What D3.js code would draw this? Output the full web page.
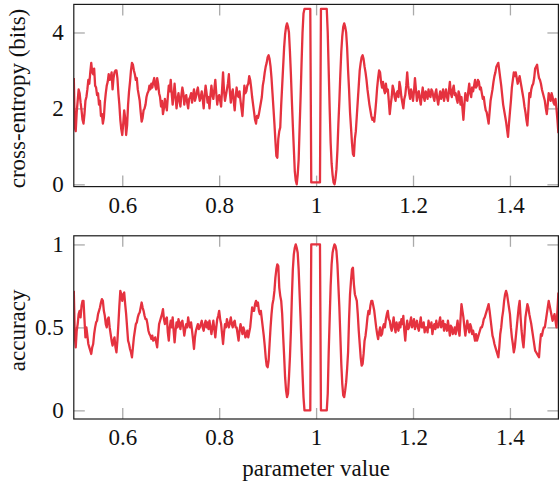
<!DOCTYPE html>
<html>
<head>
<meta charset="utf-8">
<script src="https://cdn.jsdelivr.net/npm/d3@7"></script>
<style>
  html, body { margin: 0; padding: 0; background: #fff; }
  svg { display: block; font-family: "Liberation Serif", "Times New Roman", serif; }
</style>
</head>
<body>
<svg id="chart" width="559" height="486"></svg>
<script>
// Sweep of the parameter: evenly spaced samples from 0.5 to 1.5
const paramStart = 0.5;
const paramStep = 0.002;

// Cross-entropy (bits) at each sample
const crossEntropy = [
  2.8, 1.5, 1.4, 1.9, 2.2, 2.5, 2.4, 2.15, 1.95, 1.7,
  1.6, 1.85, 2.2, 2.3, 2.5, 2.75, 2.65, 2.95, 3.2, 2.95,
  2.9, 3.05, 2.6, 2.55, 2.35, 2.4, 2.1, 2.2, 1.8, 1.85,
  1.6, 1.75, 2.15, 2.4, 2.6, 2.7, 2.9, 2.75, 2.8, 2.95,
  2.5, 2.8, 2.95, 3.0, 3.0, 2.8, 2.4, 2.1, 1.7, 1.45,
  1.3, 1.6, 1.95, 1.75, 1.3, 1.55, 2.1, 2.45, 2.7, 3.0,
  3.2, 3.15, 3.0, 2.9, 2.75, 2.8, 2.5, 2.35, 2.2, 1.9,
  1.65, 1.75, 1.95, 2.0, 2.1, 2.3, 2.4, 2.45, 2.6, 2.5,
  2.65, 2.55, 2.7, 2.8, 2.6, 2.5, 2.8, 2.65, 2.4, 2.3,
  2.05, 2.2, 1.85, 2.0, 2.25, 2.1, 1.95, 2.3, 2.6, 2.45,
  2.75, 2.4, 2.1, 2.35, 2.65, 2.3, 2.0, 2.25, 2.4, 2.2,
  2.05, 2.35, 2.55, 2.4, 2.1, 2.3, 2.35, 2.15, 2.0, 2.25,
  2.3, 2.4, 2.15, 2.35, 2.5, 2.2, 2.3, 2.45, 2.55, 2.35,
  2.2, 2.3, 2.45, 2.25, 2.0, 2.35, 2.6, 2.4, 2.15, 2.3,
  2.0, 2.35, 2.6, 2.35, 2.25, 2.5, 2.75, 2.4, 2.1, 2.3,
  2.35, 2.2, 2.05, 2.5, 2.95, 2.45, 2.2, 2.35, 2.5, 2.65,
  2.9, 2.45, 2.15, 2.4, 2.5, 2.2, 1.95, 2.3, 2.55, 2.35,
  2.3, 2.45, 2.2, 2.0, 1.8, 2.2, 2.6, 2.4, 2.45, 2.6,
  2.65, 2.85, 2.75, 2.55, 2.3, 2.1, 1.9, 1.7, 1.6, 1.8,
  1.75, 1.85, 2.0, 2.15,
  // central oscillation
  2.3, 2.6, 2.75, 2.95, 3.1, 3.2, 3.35, 3.4, 3.3, 3.1,
  2.8, 2.4, 2.0, 1.6, 1.15, 0.75, 0.7, 1.2, 1.4, 1.5,
  2.1, 2.6, 3.1, 3.6, 3.95, 4.15, 4.24, 4.15, 4.0, 3.5,
  2.9, 2.2, 1.55, 0.95, 0.35, 0.1, 0.0, 0.25, 0.65, 1.5,
  2.3, 3.2, 4.0, 4.5,
  4.62, 4.62, 4.62, 4.62, 4.62, 4.62, 4.62,
  0.05, 0.05, 0.05, 0.05, 0.05, 0.05, 0.05, 0.05, 0.05, 0.05,
  4.62, 4.62, 4.62, 4.62, 4.62, 4.62, 4.62,
  4.0, 3.0, 2.0, 1.1, 0.55, 0.25, 0.05, 0.0, 0.15, 0.4,
  0.9, 1.6, 2.2, 2.9, 3.5, 3.9, 4.15, 4.24, 4.15, 4.0,
  3.6, 3.0, 2.5, 1.9, 1.5, 1.1, 0.8, 0.75, 1.2, 1.4,
  1.8, 2.2, 2.6, 3.0, 3.2, 3.35, 3.4, 3.3, 3.1, 2.95,
  2.75, 2.5,
  // upper plateau
  2.3, 2.1, 1.95, 1.8, 1.7, 1.75, 1.65, 1.9, 2.2, 2.55,
  2.8, 3.0, 2.95, 2.7, 2.55, 2.7, 2.5, 2.4, 2.65, 2.45,
  2.5, 2.2, 1.85, 2.1, 2.3, 2.6, 2.5, 2.3, 2.2, 2.4,
  2.45, 2.3, 2.7, 2.55, 2.3, 2.15, 2.0, 2.25, 2.35, 2.6,
  2.95, 2.6, 2.4, 2.25, 2.5, 2.4, 2.2, 2.45, 2.8, 2.5,
  2.2, 2.4, 2.45, 2.25, 2.1, 2.35, 2.55, 2.3, 2.2, 2.45,
  2.4, 2.25, 2.5, 2.35, 2.3, 2.5, 2.45, 2.3, 2.2, 2.4,
  2.5, 2.25, 2.1, 2.3, 2.45, 2.25, 2.35, 2.5, 2.2, 2.35,
  2.5, 2.3, 2.2, 2.45, 2.7, 2.4, 2.3, 2.5, 2.6, 2.35,
  2.4, 2.25, 2.15, 2.45, 2.35, 2.1, 2.3, 2.0, 1.7, 2.1,
  2.4, 2.25, 2.2, 2.45, 2.65, 2.4, 2.3, 2.55, 2.45, 2.6,
  2.75, 2.55, 2.6, 2.75, 2.7, 2.5, 2.55, 2.4, 2.25, 2.3,
  2.1, 1.95, 1.9, 1.75, 1.6, 1.9, 2.2, 2.35, 2.5, 2.7,
  2.85, 2.95, 3.1, 3.15, 3.2, 3.0, 2.8, 2.6, 2.35, 2.1,
  1.95, 1.8, 1.65, 1.45, 1.25, 1.6, 1.9, 2.2, 2.55, 2.75,
  2.95, 2.85, 2.95, 2.8, 2.65, 2.75, 2.85, 2.7, 2.55, 2.4,
  2.25, 2.05, 1.9, 1.7, 1.55, 1.95, 2.4, 2.3, 2.5, 2.6,
  2.65, 2.8, 3.05, 3.1, 3.15, 2.95, 2.8, 2.75, 2.65, 2.5,
  2.4, 2.3, 2.2, 2.0, 1.85, 2.1, 2.4, 2.3, 2.2, 2.4,
  2.3, 2.15, 2.1, 2.25, 2.0, 1.7, 1.35
];

// Accuracy at each sample
const accuracy = [
  0.72, 0.45, 0.38, 0.48, 0.52, 0.58, 0.6, 0.56, 0.63, 0.66,
  0.66, 0.55, 0.44, 0.5, 0.45, 0.4, 0.38, 0.36, 0.34, 0.38,
  0.4, 0.46, 0.5, 0.53, 0.54, 0.58, 0.6, 0.62, 0.65, 0.67,
  0.66, 0.6, 0.57, 0.52, 0.5, 0.55, 0.56, 0.5, 0.46, 0.42,
  0.39, 0.42, 0.44, 0.38, 0.35, 0.42, 0.52, 0.63, 0.72, 0.7,
  0.66, 0.7, 0.71, 0.64, 0.58, 0.5, 0.42, 0.4, 0.37, 0.35,
  0.32, 0.38, 0.44, 0.48, 0.52, 0.53, 0.56, 0.58, 0.59, 0.62,
  0.65, 0.62, 0.6, 0.57, 0.55, 0.55, 0.52, 0.48, 0.46, 0.45,
  0.43, 0.45, 0.42, 0.43, 0.44, 0.41, 0.38, 0.45, 0.52, 0.54,
  0.56, 0.58, 0.61, 0.55, 0.52, 0.55, 0.56, 0.47, 0.42, 0.5,
  0.54, 0.5, 0.56, 0.48, 0.41, 0.48, 0.53, 0.5, 0.55, 0.52,
  0.49, 0.53, 0.54, 0.5, 0.45, 0.49, 0.52, 0.5, 0.56, 0.52,
  0.5, 0.53, 0.48, 0.43, 0.37, 0.44, 0.48, 0.5, 0.52, 0.49,
  0.5, 0.52, 0.54, 0.5, 0.48, 0.52, 0.54, 0.5, 0.53, 0.49,
  0.54, 0.5, 0.46, 0.5, 0.54, 0.49, 0.44, 0.5, 0.55, 0.57,
  0.6, 0.55, 0.52, 0.46, 0.4, 0.47, 0.52, 0.5, 0.55, 0.52,
  0.5, 0.53, 0.56, 0.52, 0.5, 0.53, 0.54, 0.5, 0.5, 0.46,
  0.42, 0.48, 0.52, 0.49, 0.46, 0.5, 0.48, 0.44, 0.45, 0.48,
  0.44, 0.47, 0.5, 0.56, 0.62, 0.6,
  // central oscillation
  0.6, 0.64, 0.66, 0.63, 0.65, 0.6, 0.58, 0.6, 0.55, 0.5,
  0.45, 0.39, 0.32, 0.27, 0.26, 0.3, 0.4, 0.5, 0.58, 0.64,
  0.67, 0.72, 0.8, 0.85, 0.88, 0.87, 0.74, 0.69, 0.66, 0.58,
  0.45, 0.33, 0.2, 0.12, 0.08, 0.1, 0.2, 0.32, 0.48, 0.68,
  0.85, 0.94, 0.98, 1.0, 0.98, 0.95, 0.85, 0.7, 0.55, 0.38,
  0.22, 0.08,
  0.0, 0.0, 0.0, 0.0, 0.0, 0.0, 0.0,
  1.0, 1.0, 1.0, 1.0, 1.0, 1.0, 1.0, 1.0, 1.0, 1.0,
  0.0, 0.0, 0.0, 0.0, 0.0, 0.0, 0.0,
  0.1, 0.35, 0.55, 0.75, 0.88, 0.95, 0.98, 1.0, 0.99, 0.96,
  0.88, 0.75, 0.62, 0.45, 0.28, 0.16, 0.09, 0.08, 0.12, 0.17,
  0.25, 0.35, 0.55, 0.7, 0.78, 0.85, 0.86, 0.76, 0.7, 0.68,
  0.66, 0.58, 0.48, 0.4, 0.32, 0.27, 0.28, 0.34, 0.42,
  // upper plateau
  0.45, 0.5, 0.56, 0.6, 0.58, 0.63, 0.66, 0.66, 0.63, 0.6,
  0.55, 0.5, 0.46, 0.43, 0.47, 0.5, 0.45, 0.46, 0.5, 0.52,
  0.5, 0.55, 0.58, 0.6, 0.55, 0.54, 0.5, 0.48, 0.52, 0.56,
  0.5, 0.47, 0.53, 0.5, 0.48, 0.53, 0.5, 0.55, 0.52, 0.57,
  0.48, 0.42, 0.5, 0.54, 0.49, 0.5, 0.53, 0.56, 0.5, 0.52,
  0.55, 0.49, 0.52, 0.54, 0.5, 0.48, 0.52, 0.56, 0.5, 0.5,
  0.53, 0.47, 0.5, 0.5, 0.47, 0.54, 0.5, 0.5, 0.53, 0.46,
  0.5, 0.52, 0.49, 0.54, 0.5, 0.5, 0.53, 0.56, 0.5, 0.52,
  0.54, 0.48, 0.52, 0.51, 0.48, 0.54, 0.5, 0.45, 0.51, 0.5,
  0.46, 0.47, 0.5, 0.46, 0.5, 0.54, 0.48, 0.45, 0.55, 0.64,
  0.6, 0.56, 0.5, 0.45, 0.5, 0.54, 0.5, 0.47, 0.52, 0.5,
  0.46, 0.48, 0.45, 0.42, 0.46, 0.42, 0.44, 0.46, 0.48, 0.5,
  0.5, 0.52, 0.55, 0.56, 0.58, 0.6, 0.62, 0.64, 0.6, 0.55,
  0.5, 0.45, 0.43, 0.4, 0.38, 0.36, 0.34, 0.32, 0.38, 0.46,
  0.5, 0.56, 0.6, 0.66, 0.7, 0.72, 0.7, 0.66, 0.62, 0.58,
  0.5, 0.44, 0.4, 0.35, 0.38, 0.44, 0.5, 0.56, 0.62, 0.66,
  0.56, 0.48, 0.42, 0.38, 0.46, 0.56, 0.6, 0.64, 0.62, 0.58,
  0.55, 0.52, 0.48, 0.44, 0.4, 0.36, 0.35, 0.34, 0.33, 0.32,
  0.4, 0.46, 0.45, 0.48, 0.5, 0.5, 0.54, 0.58, 0.62, 0.66,
  0.63, 0.6, 0.57, 0.54, 0.56, 0.58, 0.54, 0.5, 0.6, 0.71
];

const xTicks = [0.6, 0.8, 1, 1.2, 1.4];
const ceTicks = [0, 2, 4];
const accTicks = [0, 0.5, 1];
const xDomain = [0.5, 1.5];

if (crossEntropy.length !== accuracy.length) {
  console.error("series lengths differ", crossEntropy.length, accuracy.length);
}
const paramValues = crossEntropy.map((_, i) => paramStart + i * paramStep);

const svg = d3.select("#chart");
const lineColor = "#e5323f";
const tickColor = "#aaaaaa";
const fontSize = 23;

const x = d3.scaleLinear().domain(xDomain).range([73.8, 558.4]);

const panels = [
  { id: "ce", label: "cross-entropy (bits)", values: crossEntropy, ticks: ceTicks,
    domain: [-0.06, 4.74], top: 4.4, bottom: 186.6 },
  { id: "acc", label: "accuracy", values: accuracy, ticks: accTicks,
    domain: [-0.052, 1.052], top: 235.8, bottom: 419 }
];

const fmt = d => String(d);

panels.forEach(p => {
  const y = d3.scaleLinear().domain(p.domain).range([p.bottom, p.top]);
  const g = svg.append("g");

  // inward ticks on all four sides
  const bottomAxis = g.append("g")
    .attr("transform", `translate(0,${p.bottom})`)
    .call(d3.axisBottom(x).tickValues(xTicks).tickSizeInner(-11).tickSizeOuter(0)
      .tickPadding(10).tickFormat(fmt));
  const topAxis = g.append("g")
    .attr("transform", `translate(0,${p.top})`)
    .call(d3.axisTop(x).tickValues(xTicks).tickSizeInner(-11).tickSizeOuter(0).tickFormat(""));
  const leftAxis = g.append("g")
    .attr("transform", `translate(${x.range()[0]},0)`)
    .call(d3.axisLeft(y).tickValues(p.ticks).tickSizeInner(-11).tickSizeOuter(0)
      .tickPadding(10).tickFormat(fmt));
  const rightAxis = g.append("g")
    .attr("transform", `translate(${x.range()[1]},0)`)
    .call(d3.axisRight(y).tickValues(p.ticks).tickSizeInner(-11).tickSizeOuter(0).tickFormat(""));

  [bottomAxis, topAxis, leftAxis, rightAxis].forEach(a => {
    a.select(".domain").remove();
    a.selectAll(".tick line").attr("stroke", tickColor).attr("stroke-width", 1.3);
    a.selectAll(".tick text")
      .attr("fill", "#111")
      .style("font-family", '"Liberation Serif", "Times New Roman", serif')
      .style("font-size", fontSize + "px");
  });

  // data line, clipped to the plot box
  const clipId = "clip-" + p.id;
  svg.append("clipPath").attr("id", clipId)
    .append("rect")
    .attr("x", x.range()[0]).attr("y", p.top)
    .attr("width", x.range()[1] - x.range()[0]).attr("height", p.bottom - p.top);

  const line = d3.line()
    .x((d, i) => x(paramValues[i]))
    .y(d => y(d));

  g.append("path")
    .datum(p.values)
    .attr("clip-path", `url(#${clipId})`)
    .attr("fill", "none")
    .attr("stroke", lineColor)
    .attr("stroke-width", 2.3)
    .attr("stroke-linejoin", "round")
    .attr("d", line);

  // frame
  g.append("rect")
    .attr("x", x.range()[0]).attr("y", p.top)
    .attr("width", x.range()[1] - x.range()[0]).attr("height", p.bottom - p.top)
    .attr("fill", "none")
    .attr("stroke", "#1a1a1a")
    .attr("stroke-width", 1.2);

  // y-axis title
  g.append("text")
    .attr("transform", `translate(25,${(p.top + p.bottom) / 2 + 3}) rotate(-90)`)
    .attr("text-anchor", "middle")
    .attr("fill", "#111")
    .style("font-size", fontSize + "px")
    .text(p.label);
});

// x-axis title
svg.append("text")
  .attr("x", (x.range()[0] + x.range()[1]) / 2)
  .attr("y", 476)
  .attr("text-anchor", "middle")
  .attr("fill", "#111")
  .style("font-size", fontSize + "px")
  .text("parameter value");
</script>
</body>
</html>
